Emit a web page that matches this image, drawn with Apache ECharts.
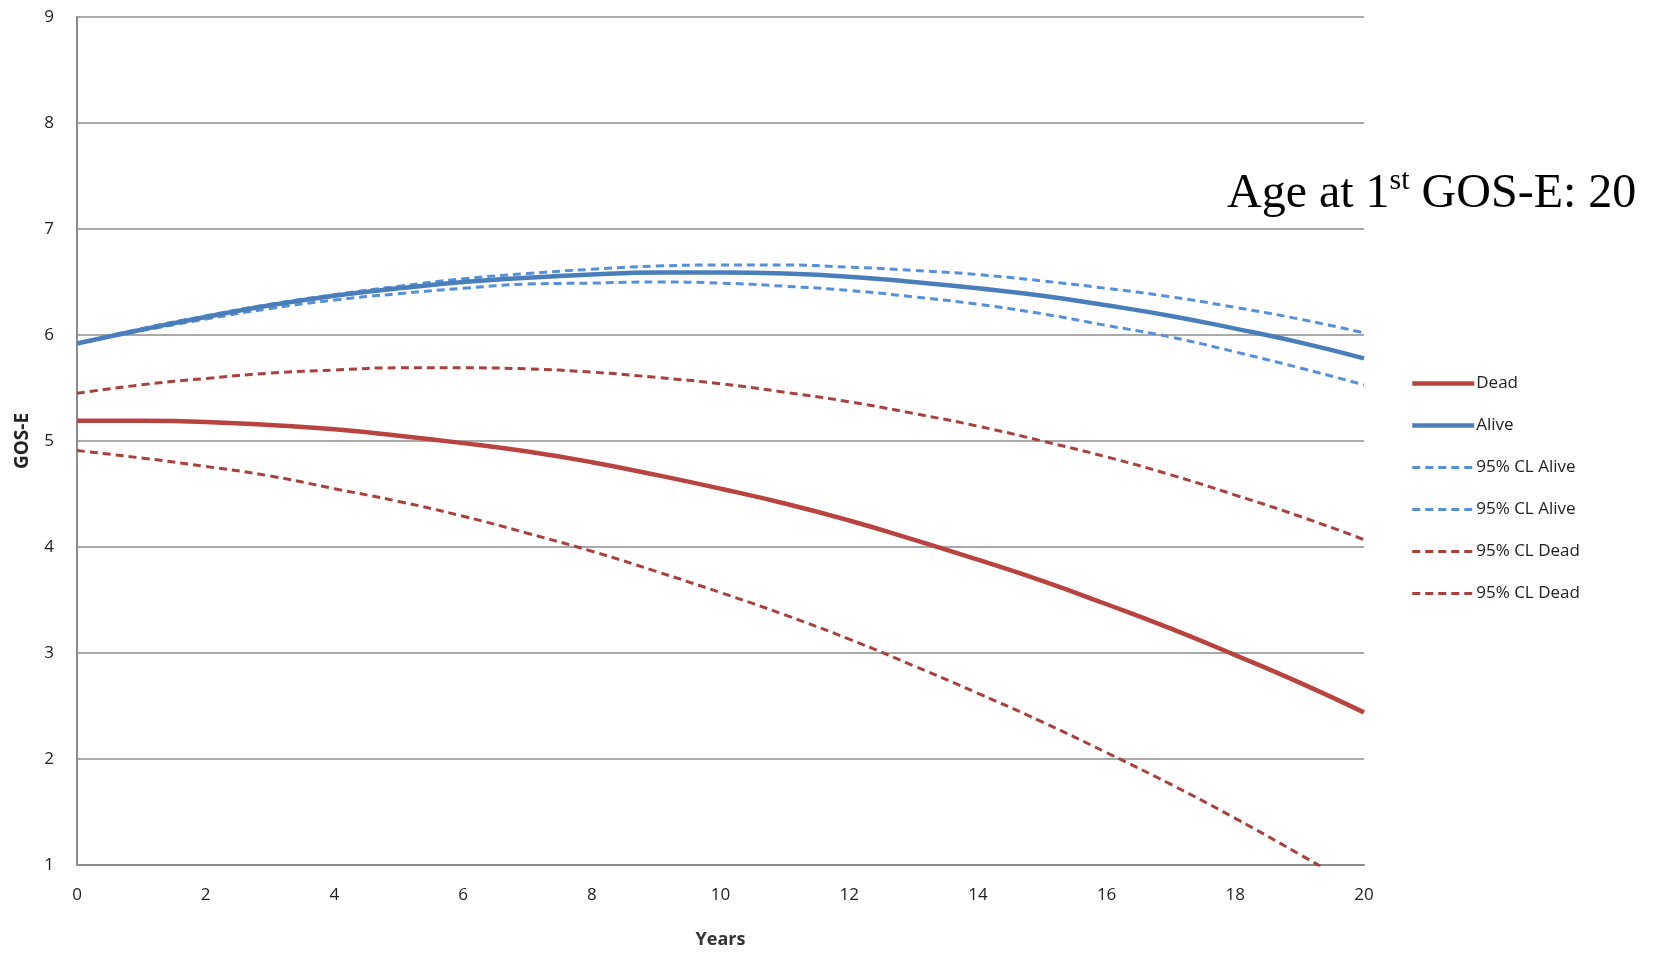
<!DOCTYPE html>
<html>
<head>
<meta charset="utf-8">
<script src="https://cdn.jsdelivr.net/npm/echarts@6/dist/echarts.min.js"></script>
<style>
  html, body { margin: 0; padding: 0; background: #fff; }
  #chart { width: 1655px; height: 954px; }
</style>
</head>
<body>
<div id="chart"></div>
<script>
// Years since first GOS-E
const years = [0, 1, 2, 3, 4, 5, 6, 7, 8, 9, 10, 11, 12, 13, 14, 15, 16, 17, 18, 19, 20];

// Values
const dead = [5.19, 5.19, 5.18, 5.15, 5.11, 5.05, 4.98, 4.90, 4.80, 4.68, 4.55, 4.41, 4.25, 4.07, 3.88, 3.68, 3.46, 3.23, 2.98, 2.72, 2.44];
const alive = [5.92, 6.05, 6.17, 6.28, 6.37, 6.44, 6.50, 6.54, 6.57, 6.59, 6.59, 6.58, 6.55, 6.50, 6.44, 6.37, 6.28, 6.18, 6.06, 5.93, 5.78];
const clAliveUpper = [5.92, 6.06, 6.18, 6.29, 6.38, 6.46, 6.53, 6.58, 6.62, 6.65, 6.66, 6.66, 6.64, 6.61, 6.57, 6.51, 6.44, 6.36, 6.26, 6.15, 6.02];
const clAliveLower = [5.92, 6.04, 6.15, 6.25, 6.33, 6.39, 6.44, 6.48, 6.49, 6.50, 6.49, 6.46, 6.42, 6.36, 6.29, 6.20, 6.09, 5.98, 5.84, 5.69, 5.53];
const clDeadUpper = [5.45, 5.53, 5.59, 5.64, 5.67, 5.69, 5.69, 5.68, 5.65, 5.60, 5.54, 5.46, 5.37, 5.26, 5.14, 5.00, 4.85, 4.68, 4.49, 4.29, 4.07];
const clDeadLower = [4.91, 4.84, 4.76, 4.67, 4.55, 4.43, 4.29, 4.13, 3.96, 3.77, 3.57, 3.36, 3.13, 2.88, 2.62, 2.35, 2.06, 1.76, 1.44, 1.10, 0.75];

const RED = "#B8433F";
const RED_DASH = "#A8403D";
const BLUE = "#4A7EBB";
const BLUE_DASH = "#5590DA";
const FONT = "'Open Sans', Lato, sans-serif";
const SERIF = "'Liberation Serif', 'Times New Roman', serif";

function pairs(vals) {
    return years.map((x, i) => [x, vals[i]]);
}

function solid(name, vals, color) {
    return {
        name: name,
        type: "line",
        data: pairs(vals),
        smooth: true,
        showSymbol: false,
        symbol: "none",
        clip: true,
        lineStyle: { color: color, width: 4.5 },
        itemStyle: { color: color },
        z: 3,
    };
}

function dashed(name, vals, color) {
    return {
        name: name,
        type: "line",
        data: pairs(vals),
        smooth: true,
        showSymbol: false,
        symbol: "none",
        clip: true,
        lineStyle: { color: color, width: 3, type: [8, 5] },
        itemStyle: { color: color },
        z: 2,
    };
}

const chart = echarts.init(document.getElementById("chart"));
chart.setOption({
    animation: false,
    backgroundColor: "#fff",
    grid: { left: 77, right: 291, top: 17, bottom: 75, containLabel: false },
    xAxis: {
        type: "value",
        min: 0,
        max: 20,
        interval: 2,
        name: "Years",
        nameLocation: "middle",
        nameGap: 66,
        nameTextStyle: { fontFamily: FONT, fontSize: 18, fontWeight: "bold", color: "#333" },
        axisLine: { show: true, lineStyle: { color: "#8c8c8c", width: 2 } },
        axisTick: { show: false },
        axisLabel: { fontFamily: FONT, fontSize: 17, color: "#222", margin: 22 },
        splitLine: { show: false },
    },
    yAxis: {
        type: "value",
        min: 1,
        max: 9,
        interval: 1,
        name: "GOS-E",
        nameLocation: "middle",
        nameGap: 45,
        nameRotate: 90,
        nameTextStyle: { fontFamily: FONT, fontSize: 19, fontWeight: "bold", color: "#222" },
        axisLine: { show: true, lineStyle: { color: "#8c8c8c", width: 2 } },
        axisTick: { show: false },
        axisLabel: { fontFamily: FONT, fontSize: 17, color: "#222", margin: 23 },
        splitLine: { show: true, lineStyle: { color: "#8c8c8c", width: 1.5 } },
    },
    legend: {
        orient: "vertical",
        left: 1410,
        top: 375,
        padding: 0,
        itemWidth: 62,
        itemHeight: 14,
        itemGap: 25,
        itemStyle: { opacity: 0 },
        textStyle: { fontFamily: FONT, fontSize: 17, color: "#222", padding: [0, 0, 0, -3] },
        data: [
            { name: "Dead", lineStyle: { width: 4.5 } },
            { name: "Alive", lineStyle: { width: 4.5 } },
            { name: "95% CL Alive", lineStyle: { width: 3 } },
            { name: "95% CL Alive ", lineStyle: { width: 3 } },
            { name: "95% CL Dead", lineStyle: { width: 3 } },
            { name: "95% CL Dead ", lineStyle: { width: 3 } },
        ],
    },
    graphic: [
        {
            type: "text",
            x: 1227,
            y: 192,
            style: {
                text: "{a|Age at 1}{s|st}{a| GOS-E: 20}",
                verticalAlign: "middle",
                fill: "#000",
                rich: {
                    a: { fontFamily: SERIF, fontSize: 48, fill: "#000", verticalAlign: "bottom", lineHeight: 52 },
                    s: { fontFamily: SERIF, fontSize: 30, fill: "#000", verticalAlign: "top", lineHeight: 52, padding: [0, 0, 20, 0] },
                },
            },
        },
    ],
    series: [
        solid("Dead", dead, RED),
        solid("Alive", alive, BLUE),
        dashed("95% CL Alive", clAliveUpper, BLUE_DASH),
        dashed("95% CL Alive ", clAliveLower, BLUE_DASH),
        dashed("95% CL Dead", clDeadUpper, RED_DASH),
        dashed("95% CL Dead ", clDeadLower, RED_DASH),
    ],
});
window.addEventListener("resize", () => chart.resize());
</script>
</body>
</html>
